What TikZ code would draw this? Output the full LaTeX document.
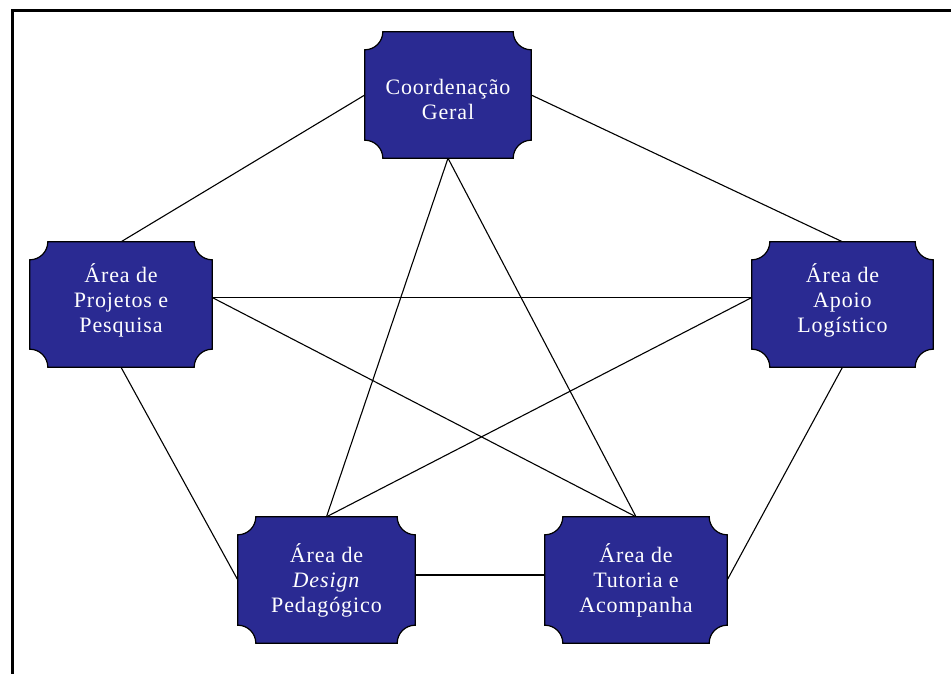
\documentclass[tikz,border=0pt]{standalone}
\usepackage{fontspec}
\setmainfont{Liberation Serif}[LetterSpace=4]
\definecolor{boxblue}{RGB}{42,42,146}
\newcommand\notchbox[2][18pt]{%
  \path[fill=boxblue,draw=black,line width=1.2pt]
    ([xshift=#1]#2.north west) -- ([xshift=-#1]#2.north east)
    arc[start angle=180,end angle=270,radius=#1]
    -- ([yshift=#1]#2.south east)
    arc[start angle=90,end angle=180,radius=#1]
    -- ([xshift=#1]#2.south west)
    arc[start angle=0,end angle=90,radius=#1]
    -- ([yshift=-#1]#2.north west)
    arc[start angle=270,end angle=360,radius=#1]
    -- cycle;}
\tikzset{
  area/.style={rectangle,inner sep=0pt,align=center,text=white,
    font=\fontsize{22}{25}\selectfont},
  link/.style={line width=1.1pt,black}
}
\begin{document}
\begin{tikzpicture}
\useasboundingbox (0,0) rectangle (951pt,-674pt);
\fill[white] (0,0) rectangle (951pt,-674pt);
\draw[line width=3pt] (12.5pt,-674pt) -- (12.5pt,-10.5pt) -- (951pt,-10.5pt);
% invisible node frames
\node[area,minimum width=166pt,minimum height=126pt] (C) at (448pt,-95pt) {};
\node[area,minimum width=182pt,minimum height=125pt] (L) at (121pt,-304.5pt) {};
\node[area,minimum width=181pt,minimum height=125pt] (R) at (842.5pt,-304.5pt) {};
\node[area,minimum width=177pt,minimum height=126pt] (BL) at (326.5pt,-580pt) {};
\node[area,minimum width=182pt,minimum height=126pt] (BR) at (636pt,-580pt) {};
% connectors
\draw[link] (C.west) -- (L.north);
\draw[link] (C.east) -- (R.north);
\draw[link] (C.south) -- (BL.north);
\draw[link] (C.south) -- (BR.north);
\draw[link] ([yshift=7pt]L.east) -- ([yshift=7pt]R.west);
\draw[link] ([yshift=7pt]L.east) -- (BR.north);
\draw[link] ([yshift=7pt]R.west) -- (BL.north);
\draw[link] (L.south) -- (BL.west);
\draw[link] (R.south) -- (BR.east);
\draw[link] ([yshift=5pt]BL.east) -- ([yshift=5pt]BR.west);
% boxes
\notchbox{C}
\notchbox{L}
\notchbox{R}
\notchbox{BL}
\notchbox{BR}
% texts
\node[area] (Ct) at ([yshift=-4pt]C.center) {Coordenação\\Geral};
\node[area] (Lt) at ([yshift=4pt]L.center) {Área de\\Projetos e\\Pesquisa};
\node[area] (Rt) at ([yshift=4pt]R.center) {Área de\\Apoio\\Logístico};
\node[area] (BLt) at (BL.center) {Área de\\\textit{Design}\\Pedagógico};
\node[area] (BRt) at (BR.center) {Área de\\Tutoria e\\Acompanha};
\end{tikzpicture}
\end{document}
